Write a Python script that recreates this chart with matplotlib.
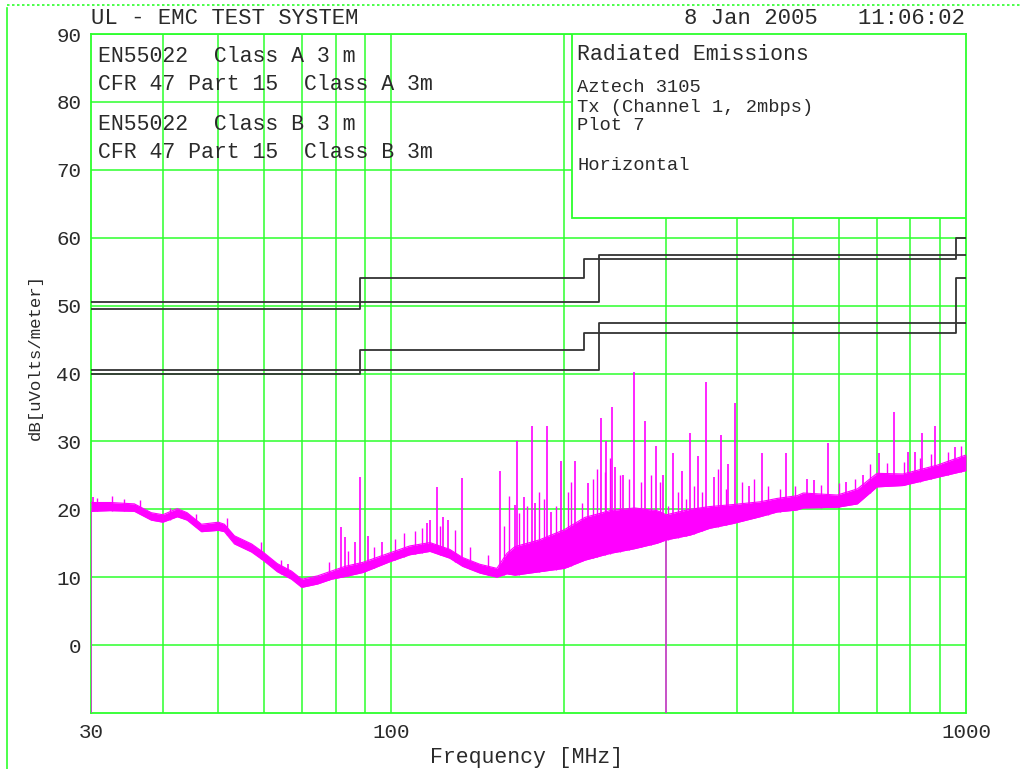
import matplotlib
matplotlib.use("Agg")
import numpy as np
import matplotlib.pyplot as plt
from matplotlib.patches import Rectangle
from matplotlib.lines import Line2D
from matplotlib.ticker import FixedLocator, NullLocator

# limit lines (step edges in MHz, level in dBuV/m)
en_a_f = [30, 230, 1000]
en_a_v = [50.5, 57.5, 57.5]
fcc_a_f = [30, 88, 216, 960, 1000]
fcc_a_v = [49.5, 54.0, 56.9, 60.0, 60.0]
en_b_f = [30, 230, 1000]
en_b_v = [40.5, 47.5, 47.5]
fcc_b_f = [30, 88, 216, 960, 1000]
fcc_b_v = [40.0, 43.5, 46.0, 54.0, 54.0]

floor_f = [30, 32.4, 35.7, 38.2, 40, 42.4, 44.1, 46.7, 50, 51.2, 53.3, 57.1, 60,
           63.3, 67.0, 69.8, 74.4, 78.6, 83.1, 89.3, 99.5, 107.6, 116.7, 126.3,
           133.0, 142.6, 152.6, 158.8, 164, 181, 200, 217, 240, 265, 290, 301,
           331, 358, 393, 438, 469, 508, 521, 597, 647, 700, 777, 891, 1000]
floor_lo = [19.7, 19.8, 19.7, 18.4, 18.1, 18.9, 18.4, 16.7, 16.9, 16.7, 14.9, 13.7,
            12.4, 10.8, 9.7, 8.5, 9.0, 9.7, 10.1, 10.7, 12.3, 13.3, 13.8, 12.8,
            11.6, 10.6, 10.0, 10.5, 10.3, 10.8, 11.3, 12.5, 13.5, 14.2, 15.0, 15.5,
            16.2, 17.2, 17.9, 18.9, 19.6, 19.9, 20.2, 20.3, 20.8, 23.3, 23.5, 24.7, 25.7]
floor_hi = [21.0, 21.0, 20.8, 19.5, 19.2, 20.1, 19.5, 17.8, 18.1, 17.8, 16.1, 14.9,
            13.6, 12.0, 10.9, 9.7, 10.2, 10.9, 11.6, 12.2, 13.6, 14.6, 15.1, 14.1,
            12.9, 11.9, 11.3, 13.5, 14.5, 15.5, 17.0, 18.8, 19.8, 20.2, 19.8, 19.2,
            20.0, 20.4, 20.7, 21.1, 21.6, 22.0, 22.4, 22.1, 23.0, 25.3, 25.2, 26.5, 28.0]

# narrowband spikes (frequency MHz, peak dBuV/m)
spike_f = [30.2, 66.0, 81.6, 83.1, 86.3, 88.0, 91.0, 96.1, 115.5, 116.7, 120.1,
           123.2, 125.2, 132.5, 154.5, 164, 165.2, 170.1, 175.7, 177.8, 186.6,
           189.7, 197.5, 209, 219.6, 231.3, 236, 241.8, 245, 253, 264.8, 276.7,
           289, 297, 309, 320, 331, 341.6, 352.6, 364, 374, 386, 397, 419, 442,
           486, 529, 544, 575, 618, 662, 706, 750, 792, 815, 838, 884, 957]
spike_v = [21.8, 11.9, 17.4, 15.9, 15.2, 24.8, 16.0, 15.2, 18.0, 18.4, 23.3,
           18.9, 18.4, 24.6, 25.7, 20.6, 30.1, 21.8, 32.2, 21.0, 32.2,
           19.6, 27.1, 27.1, 23.9, 33.5, 30.1, 35.0, 26.3, 25.1, 40.2, 33.0,
           29.3, 25.1, 28.3, 25.7, 31.3, 27.8, 38.8, 24.8, 31.0, 26.6, 35.7, 23.4, 28.3,
           28.3, 24.4, 24.3, 29.7, 24.0, 25.0, 28.3, 34.3, 28.4, 28.5, 31.3, 32.3, 29.2]

# smaller hairs on top of the noise floor
hair_f = [30.7, 32.6, 34.3, 36.5, 41.1, 45.7, 51.8, 59.4, 64.3, 78.0, 84.1, 93.3,
          101.4, 105.2, 110, 113.1, 121.4, 129, 137, 147, 157.3, 160.5, 166.7, 172.3,
          181, 184.4, 193, 202.6, 205, 214.4, 223.9, 227.5, 235, 239.7, 249.6, 259,
          271.8, 282.9, 293.4, 302.9, 315, 325, 336, 347, 370, 382, 407, 427, 452,
          474, 504, 560, 600, 640, 680, 730, 780, 830, 870, 930, 980]
hair_v = [21.6, 21.9, 21.5, 21.3, 20.2, 19.3, 18.7, 15.2, 12.5, 12.3, 13.8, 14.5,
          15.6, 16.5, 16.8, 17.2, 17.5, 17.0, 14.5, 13.2, 17.5, 22.0, 19.5, 20.5,
          22.5, 21.5, 20.5, 22.5, 24.0, 21.0, 24.5, 26.0, 25.5, 27.5, 25.0, 24.5,
          24.0, 25.0, 24.0, 20.5, 22.5, 21.5, 23.5, 22.5, 26.0, 23.0, 24.0, 24.5, 23.5,
          23.0, 23.5, 23.6, 23.8, 24.5, 26.6, 26.8, 27.0, 27.6, 28.2, 28.4, 29.3]

# single-point dropouts down to the bottom of the scale
dip_f = [30, 300]
dip_v = [-10, -10]

x_ticks = [30, 100, 1000]
x_grid = [40, 50, 60, 70, 80, 90, 100, 200, 300, 400, 500, 600, 700, 800, 900]
y_ticks = [0, 10, 20, 30, 40, 50, 60, 70, 80, 90]

green = "#2cff2c"
magenta = "#ff00ff"
txt = "#2a2a2a"
mono = "Liberation Mono"

fig = plt.figure(figsize=(10.21, 7.69), dpi=100)
ax = fig.add_axes([91 / 1021, 1 - 713 / 769, 875 / 1021, 679 / 769])
ax.set_xscale("log")
ax.set_xlim(30, 1000)
ax.set_ylim(-10, 90)

# grid
for f in x_grid:
    ax.axvline(f, color=green, lw=1.1, zorder=1)
for v in y_ticks:
    ax.axhline(v, color=green, lw=1.1, zorder=1)
for s in ax.spines.values():
    s.set_color(green)
    s.set_linewidth(1.3)

# trace
ff = np.array(floor_f)
lo = np.array(floor_lo)
hi = np.array(floor_hi)
ax.fill_between(ff, lo, hi, color=magenta, lw=0, zorder=3)
ax.plot(ff, lo, color=magenta, lw=0.8, zorder=3)
ax.plot(ff, hi, color=magenta, lw=0.8, zorder=3)
lf = np.log10(ff)
hbase = np.interp(np.log10(hair_f), lf, lo)
ax.vlines(hair_f, hbase, hair_v, color=magenta, lw=1.0, zorder=3)
base = np.interp(np.log10(spike_f), lf, lo)
ax.vlines(spike_f, base, spike_v, color=magenta, lw=1.2, zorder=3)
dbase = np.interp(np.log10(dip_f), lf, lo)
ax.vlines(dip_f, dip_v, dbase, color=magenta, lw=1.2, alpha=0.8, zorder=3)

# limits
for f, v in [(en_a_f, en_a_v), (fcc_a_f, fcc_a_v), (en_b_f, en_b_v), (fcc_b_f, fcc_b_v)]:
    ax.plot(f, v, drawstyle="steps-post", color="#333333", lw=1.3, zorder=4)

# right info box
box_y0 = 62.9
ax.add_patch(Rectangle((0.5497, (box_y0 + 10) / 100), 1 - 0.5497, 1 - (box_y0 + 10) / 100,
                       transform=ax.transAxes, facecolor="white", edgecolor=green,
                       lw=1.3, zorder=5))

# axis ticks
ax.xaxis.set_major_locator(FixedLocator(x_ticks))
ax.xaxis.set_minor_locator(NullLocator())
ax.set_xticklabels([str(t) for t in x_ticks])
ax.set_yticks(y_ticks)
ax.set_yticklabels([str(t) for t in y_ticks])
ax.tick_params(length=0, labelsize=15, labelcolor=txt, pad=7)
for lab in ax.get_xticklabels() + ax.get_yticklabels():
    lab.set_family(mono)
ax.set_xlabel("Frequency [MHz]", fontsize=15.5, family=mono, color=txt)
ax.xaxis.set_label_coords(0.498, -0.065)
ax.xaxis.label.set_va("center")
ax.set_ylabel("dB[uVolts/meter]", fontsize=12.5, family=mono, color=txt)
ax.yaxis.set_label_coords(-0.064, 0.524)
ax.yaxis.label.set_va("center")

# header texts
fig.text(91 / 1021, 1 - 18 / 769, "UL - EMC TEST SYSTEM", fontsize=16, family=mono,
         color=txt, va="center", ha="left")
fig.text(965 / 1021, 1 - 18 / 769, "8 Jan 2005   11:06:02", fontsize=16, family=mono,
         color=txt, va="center", ha="right")


def px(x, y):
    return x / 1021, 1 - y / 769


left_lines = [("EN55022  Class A 3 m", 56), ("CFR 47 Part 15  Class A 3m", 84),
              ("EN55022  Class B 3 m", 125), ("CFR 47 Part 15  Class B 3m", 152)]
for s, y in left_lines:
    fig.text(*px(98, y), s, fontsize=15.5, family=mono, color=txt, va="center", zorder=10)

fig.text(*px(577, 54), "Radiated Emissions", fontsize=15.5, family=mono, color=txt,
         va="center", zorder=10)
for s, y in [("Aztech 3105", 88), ("Tx (Channel 1, 2mbps)", 107), ("Plot 7", 126),
             ("Horizontal", 165)]:
    fig.text(*px(577, y), s, fontsize=13.5, family=mono, color=txt, va="center", zorder=10)

# page frame bits
fig.add_artist(Line2D([7 / 1021, 7 / 1021], [0, 1 - 8 / 769], color=green, lw=1.2))
fig.add_artist(Line2D([7 / 1021, 1], [1 - 5 / 769, 1 - 5 / 769], color=green, lw=1.2,
                      linestyle=(0, (1.5, 1.5))))

fig.savefig("out.png", dpi=100, facecolor="white")
